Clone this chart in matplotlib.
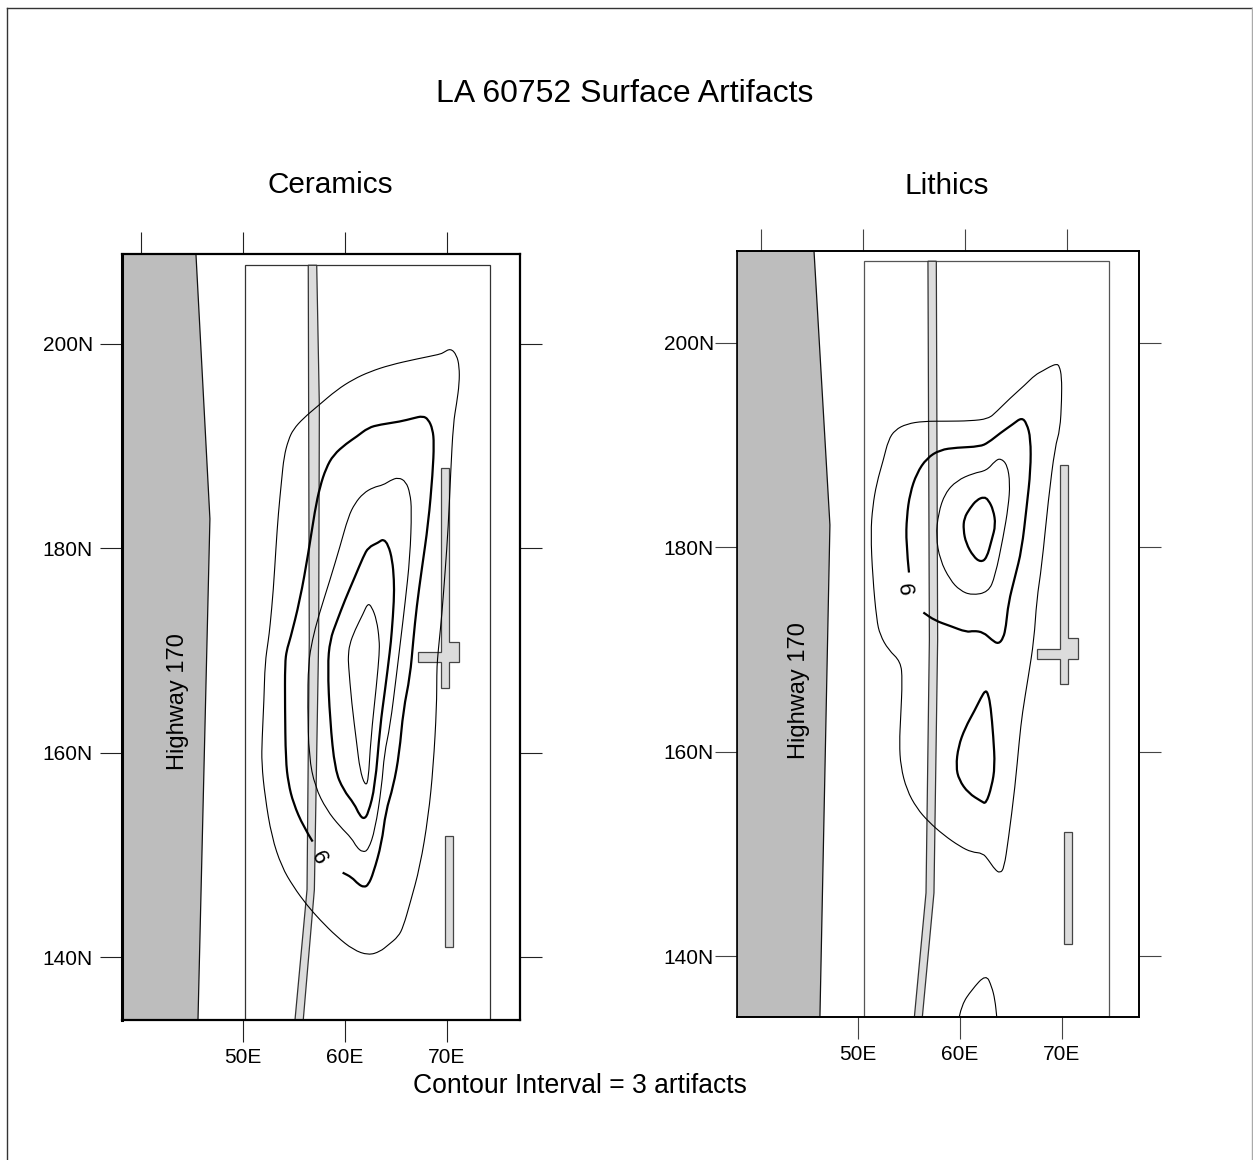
import numpy as np
import matplotlib
matplotlib.use("Agg")
import matplotlib.pyplot as plt
from matplotlib.lines import Line2D
from matplotlib.patches import PathPatch, Polygon
from matplotlib.path import Path

plt.rcParams['font.family'] = ['Liberation Sans', 'DejaVu Sans']

# tick values
xtick_top = [40, 50, 60, 70]
xtick_bot = [50, 60, 70]
xlabels = ['50E', '60E', '70E']
ytick_vals = [140, 160, 180, 200]
ylabels = ['140N', '160N', '180N', '200N']

# ceramics contours as (east, north)
cer_outer = [(70.36,199.57),(69.64,199.15),(69.32,198.99),(67.03,198.53),(64.42,197.94),(62.45,197.29),(60.82,196.54),
    (59.19,195.50),(57.39,193.97),(55.92,192.73),(54.94,191.65),(54.45,190.61),(54.02,188.97),(53.79,186.69),
    (53.47,183.43),(53.24,180.17),(52.98,175.93),(52.65,172.34),(52.49,171.04),(52.16,168.76),(52.06,165.17),
    (51.87,161.26),(51.83,158.97),(52.16,155.71),(52.81,151.80),(53.79,148.86),(54.94,146.90),(56.25,145.11),
    (57.55,143.64),(59.19,142.01),(60.82,140.71),(62.29,140.19),(63.44,140.54),(64.25,141.20),(65.23,142.01),
    (65.72,142.99),(66.38,145.27),(67.36,148.86),(68.17,153.75),(68.66,158.65),(68.99,164.52),(69.0,167.78),
    (69.06,169.08),(69.25,171.04),(69.48,173.32),(69.81,177.56),(70.13,182.13),(70.36,187.34),(70.62,192.24),
    (70.95,194.19),(71.21,196.15),(71.21,197.78),(70.95,198.92)]
cer_six = [(56.83,151.31),(55.92,152.78),(54.94,155.06),(54.45,157.02),(54.19,159.30),(54.12,164.52),(54.12,168.76),
    (54.29,170.06),(54.61,171.04),(55.59,174.95),(56.41,179.52),(57.06,183.76),(57.55,186.04),(58.14,187.83),
    (58.86,189.14),(60.17,190.28),(61.15,190.93),(62.29,191.81),(63.44,192.11),(65.40,192.40),(66.70,192.73),
    (67.62,192.95),(68.17,192.63),(68.60,191.65),(68.73,190.28),(68.60,187.34),(68.17,182.45),(67.52,177.90),
    (67.03,174.30),(66.70,171.04),(66.38,167.45),(65.72,164.19),(65.33,159.95),(64.74,156.69),(63.99,154.24),
    (63.60,151.14),(62.78,148.21),(62.29,147.07),(61.87,146.84),(61.31,147.13),(60.66,147.82),(59.77,148.27)]
cer_nine = [(65.23,186.95),(64.42,186.63),(63.76,186.20),(62.78,185.97),(61.80,185.39),(60.98,184.41),(60.33,183.10),
    (59.51,180.17),(58.53,176.91),(57.39,173.32),(56.80,171.04),(56.41,168.76),(56.34,164.52),(56.47,159.62),
    (57.06,156.69),(58.20,154.41),(59.51,152.78),(60.66,151.63),(61.15,150.75),(61.74,150.26),(62.29,150.49),
    (62.95,152.45),(63.60,156.69),(63.86,159.95),(64.42,162.56),(65.07,167.78),(65.46,171.04),(65.89,174.62),
    (66.38,179.19),(66.54,183.76),(66.38,185.39),(65.98,186.53)]
cer_twelve = [(63.76,180.92),(63.27,180.56),(62.29,180.10),(61.80,179.19),(60.98,177.23),(60.00,174.95),(59.19,172.83),
    (58.53,171.04),(58.30,168.43),(58.53,163.21),(59.02,158.32),(59.84,156.36),(60.92,154.99),(61.41,153.92),
    (61.87,153.49),(62.29,154.08),(62.95,156.69),(63.44,162.56),(63.93,166.15),(64.42,170.06),(64.58,171.69),
    (64.81,174.95),(64.81,176.91),(64.64,178.86),(64.25,180.33)]
cer_fifteen = [(62.23,174.62),(61.80,173.64),(60.98,172.01),(60.43,170.55),(60.33,169.41),(60.33,168.76),(60.66,164.84),
    (61.15,160.93),(61.47,158.32),(61.96,156.79),(62.29,157.18),(62.52,161.26),(63.11,166.80),(63.37,169.74),
    (63.37,171.04),(63.11,172.99),(62.62,174.30)]

# lithics contours
lit_outer = [(68.99,197.95),(68.34,197.69),(67.68,197.30),(66.87,196.87),(65.89,195.90),(64.42,194.59),(63.11,193.29),
    (62.29,192.57),(60.49,192.37),(58.21,192.34),(55.92,192.34),(54.29,192.08),(53.14,191.49),(52.49,190.51),
    (52.0,188.56),(51.34,186.27),(50.95,183.99),(50.76,181.38),(50.95,177.14),(51.34,172.90),(51.67,171.43),
    (52.49,169.97),(53.70,168.82),(53.86,167.03),(53.70,163.44),(53.57,160.83),(53.70,158.55),(54.29,156.26),
    (55.27,154.47),(56.41,153.16),(57.88,151.86),(59.51,150.72),(60.66,150.16),(61.74,150.07),(62.29,149.41),
    (62.95,148.44),(63.44,148.11),(63.83,148.60),(64.25,151.37),(64.91,156.59),(65.33,161.16),(65.62,163.76),
    (66.21,167.35),(66.77,170.94),(67.03,174.86),(67.52,178.12),(68.17,184.64),(68.83,189.86),(69.32,191.49),
    (69.48,194.43),(69.48,196.71),(69.25,197.75)]
lit_six = [(54.51,177.53),(54.22,180.40),(54.29,183.01),(54.61,185.29),(55.27,187.25),(56.25,188.72),(57.55,189.54),
    (59.19,189.76),(61.47,189.86),(62.29,190.25),(63.44,191.17),(64.74,192.08),(65.56,192.70),(66.05,192.14),
    (66.44,190.68),(66.44,187.58),(66.05,183.99),(65.56,179.75),(64.91,177.14),(64.25,174.53),(64.02,172.25),
    (63.76,171.11),(63.27,170.52),(62.62,170.94),(61.80,171.69),(60.82,171.83),(60.17,171.69),(58.53,172.31),
    (57.06,172.83),(55.92,173.62)]
lit_nine = [(63.50,188.72),(62.95,188.46),(62.13,187.51),(60.82,187.25),(59.19,186.53),(58.04,185.29),(57.39,183.34),
    (57.16,181.06),(57.55,178.77),(58.53,176.82),(59.51,175.77),(60.66,175.31),(62.29,175.61),(62.95,177.14),
    (63.76,181.06),(64.25,183.99),(64.42,186.27),(64.15,188.07)]
lit_twelve_a = [(61.87,184.94),(61.15,184.64),(60.49,183.83),(59.91,182.85),(59.84,181.71),(60.10,180.40),(60.82,179.10),
    (61.54,178.54),(62.13,178.93),(62.62,180.73),(63.01,182.20),(62.78,183.66),(62.29,184.64)]
lit_six_b = [(62.03,166.05),(61.54,165.23),(60.98,164.09),(60.0,162.30),(59.35,160.50),(59.12,158.55),(59.41,157.24),
    (60.33,155.94),(61.64,155.12),(62.06,154.89),(62.62,156.59),(62.94,158.55),(62.78,161.48),(62.52,164.42),
    (62.29,165.56)]
lit_bottom = [(59.45,134.08),(59.68,135.23),(60.66,136.69),(62.06,138.23),(62.62,137.02),(62.94,135.72),(63.11,134.08)]

# site features
cer_highway = [(38.14,208.8),(45.39,208.8),(46.76,182.88),(45.59,133.85),(38.14,133.85)]
cer_road = [(56.4,207.7),(57.23,207.7),(57.49,193.9),(57.42,171.0),(57.0,146.6),(55.91,133.85),(55.1,133.85),(56.28,146.6),(56.5,171.0)]
cer_cross = [(69.38,187.83),(70.23,187.83),(70.23,170.87),(71.21,170.87),(71.21,168.85),(70.23,168.85),(70.23,166.31),
    (69.38,166.31),(69.38,168.85),(67.19,168.85),(67.19,169.83),(69.38,169.83)]
cer_bar = [(69.81,140.97),(70.62,140.97),(70.62,151.86),(69.81,151.86)]
cer_block = [(50.2,133.85),(50.2,207.7),(74.17,207.7),(74.17,133.85)]

lit_highway = [(37.65,209.0),(45.2,209.0),(46.76,182.19),(45.78,134.03),(37.65,134.03)]
lit_road = [(56.37,208.0),(57.19,208.0),(57.32,170.94),(56.96,146.18),(55.82,134.03),(55.04,134.03),(56.18,146.18),(56.51,170.94)]
lit_cross = [(69.32,188.07),(70.13,188.07),(70.13,171.11),(71.11,171.11),(71.11,169.05),(70.13,169.05),(70.13,166.60),
    (69.32,166.60),(69.32,169.05),(67.10,169.05),(67.10,170.06),(69.32,170.06)]
lit_bar = [(69.71,141.16),(70.53,141.16),(70.53,152.09),(69.71,152.09)]
lit_block = [(50.1,134.03),(50.1,208.0),(74.12,208.0),(74.12,134.03)]

W, H = 1253, 1160
fig = plt.figure(figsize=(W/100, H/100), dpi=100)


def make_axes(box, xlim, ylim, bottom_shift, spine_lw, left_lw, tick_color, ypad):
    # box is left, top, right, bottom in pixels
    l, t, r, b = box
    ax = fig.add_axes([l/W, 1-b/H, (r-l)/W, (b-t)/H])
    ax.set_xlim(xlim)
    ax.set_ylim(ylim)
    ax.set_xticks([v+bottom_shift for v in xtick_bot], xlabels, fontsize=15)
    ax.set_yticks(ytick_vals, ylabels, fontsize=15)
    ax.tick_params(axis='both', length=16, width=0.8, color=tick_color)
    ax.tick_params(axis='x', pad=4)
    ax.tick_params(axis='y', right=True, pad=ypad)
    top = ax.secondary_xaxis('top')
    top.set_xticks(xtick_top, ['']*len(xtick_top))
    top.tick_params(length=16, width=0.8, color=tick_color)
    top.spines['top'].set_visible(False)
    for s in ax.spines.values():
        s.set_linewidth(spine_lw)
        s.set_zorder(10)
    ax.spines['left'].set_linewidth(left_lw)
    return ax


def draw_site(ax, highway, road, cross, bar, block, block_color):
    ax.add_patch(Polygon(highway, closed=True, fc='#bdbdbd', ec='#111111', lw=0.9, zorder=1))
    ax.add_patch(Polygon(block, closed=False, fill=False, ec=block_color, lw=0.9, zorder=1))
    ax.add_patch(Polygon(road, closed=True, fc='#dcdcdc', ec='#333333', lw=0.9, zorder=2))
    ax.add_patch(Polygon(cross, closed=True, fc='#dcdcdc', ec='#444444', lw=0.9, zorder=2))
    ax.add_patch(Polygon(bar, closed=True, fc='#dcdcdc', ec='#444444', lw=0.9, zorder=2))


def contour(ax, pts, lw, closed=True):
    # quadratic curve through the midpoints of the read points
    a = np.array(pts)
    mids = (a + np.roll(a, -1, axis=0)) / 2
    if closed:
        verts = [mids[-1]]
        codes = [Path.MOVETO]
        for i in range(len(a)):
            verts += [a[i], mids[i]]
            codes += [Path.CURVE3, Path.CURVE3]
    else:
        verts = [a[0]]
        codes = [Path.MOVETO]
        for i in range(1, len(a)-1):
            verts += [a[i], mids[i]]
            codes += [Path.CURVE3, Path.CURVE3]
        verts.append(a[-1])
        codes.append(Path.LINETO)
    ax.add_patch(PathPatch(Path(verts, codes), fill=False, ec='black', lw=lw, joinstyle='round', zorder=3))


ax1 = make_axes((122, 254, 520, 1020), (38.14, 77.16), (133.85, 208.8), 0, 1.6, 2.2, '#222222', 5)
draw_site(ax1, cer_highway, cer_road, cer_cross, cer_bar, cer_block, '#333333')
contour(ax1, cer_outer, 0.8)
contour(ax1, cer_nine, 0.8)
contour(ax1, cer_fifteen, 0.8)
contour(ax1, cer_six, 1.6, closed=False)
contour(ax1, cer_twelve, 1.6)
ax1.text(43.6, 165.0, 'Highway 170', rotation=90, fontsize=17, ha='center', va='center')
ax1.text(57.4, 149.7, '6', rotation=-63, fontsize=16, ha='center', va='center', zorder=4)

ax2 = make_axes((737, 251, 1139, 1017), (37.65, 77.06), (134.03, 209.0), -0.5, 1.4, 1.2, '#444444', 0.5)
draw_site(ax2, lit_highway, lit_road, lit_cross, lit_bar, lit_block, '#555555')
contour(ax2, lit_outer, 0.8)
contour(ax2, lit_nine, 0.8)
contour(ax2, lit_bottom, 0.8, closed=False)
contour(ax2, lit_six, 1.6, closed=False)
contour(ax2, lit_twelve_a, 1.6)
contour(ax2, lit_six_b, 1.6)
ax2.text(43.7, 166.0, 'Highway 170', rotation=90, fontsize=17, ha='center', va='center')
ax2.text(54.0, 175.9, '6', rotation=-85, fontsize=16, ha='center', va='center', zorder=4)

fig.text(625/W, 1-94/H, 'LA 60752 Surface Artifacts', fontsize=23, ha='center', va='center')
fig.text(330/W, 1-185/H, 'Ceramics', fontsize=21.4, ha='center', va='center')
fig.text(947/W, 1-186/H, 'Lithics', fontsize=21.4, ha='center', va='center')
fig.text(580/W, 1-1086/H, 'Contour Interval = 3 artifacts', fontsize=19.1, ha='center', va='center')

# page frame: left and top dark, right paler, nothing along the bottom
fig.add_artist(Line2D([6.5/W, 6.5/W], [0, 1-7.5/H], transform=fig.transFigure, color='#333333', lw=1.0))
fig.add_artist(Line2D([6.5/W, 1252.3/W], [1-7.5/H, 1-7.5/H], transform=fig.transFigure, color='#333333', lw=1.0))
fig.add_artist(Line2D([1252.3/W, 1252.3/W], [0, 1-7.5/H], transform=fig.transFigure, color='#aaaaaa', lw=1.0))

fig.savefig('out.png', dpi=100)
